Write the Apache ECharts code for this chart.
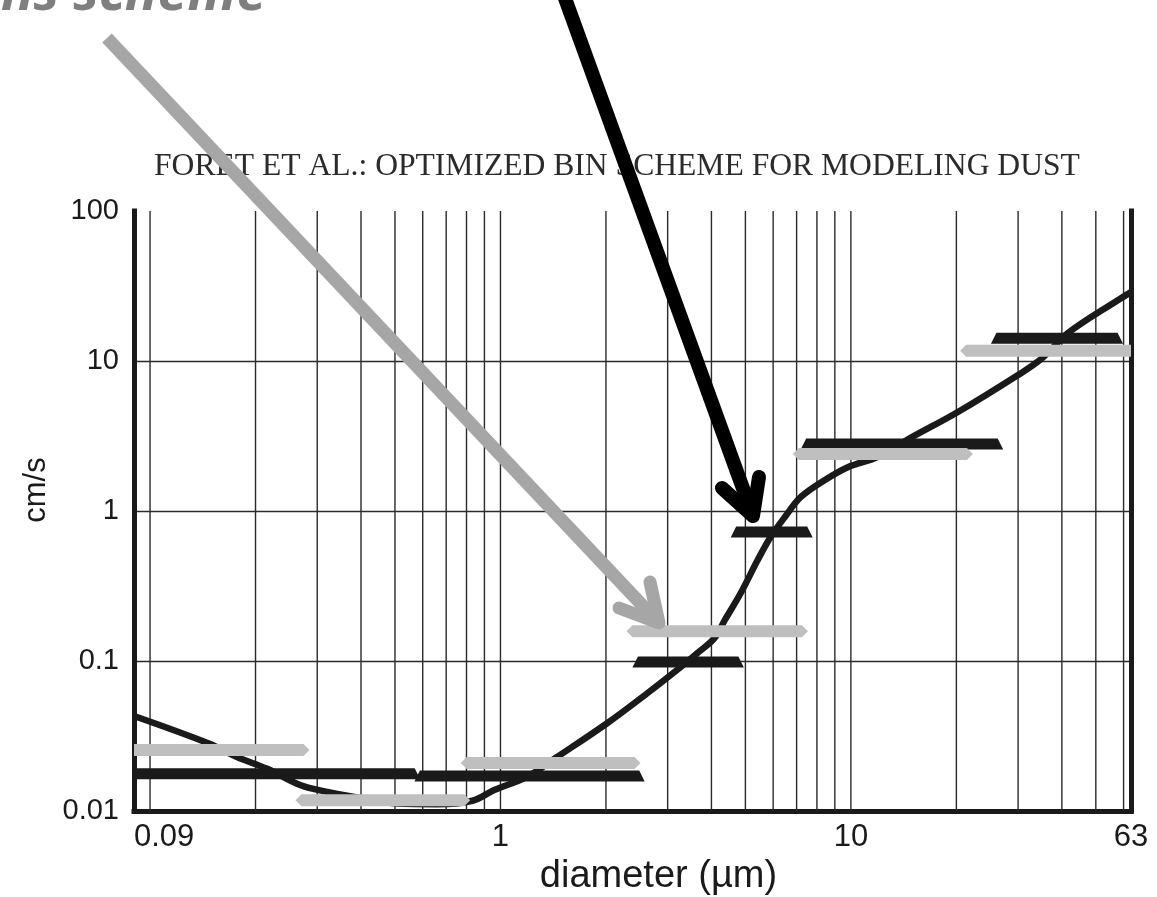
<!DOCTYPE html>
<html>
<head>
<meta charset="utf-8">
<script src="https://cdn.jsdelivr.net/npm/echarts@6/dist/echarts.min.js"></script>
<style>
  html, body { margin: 0; padding: 0; background: #fff; }
  #chart { width: 1157px; height: 897px; }
</style>
</head>
<body>
<div id="chart"></div>
<script>
// Axis ranges and tick labels
const X_MIN = 0.09, X_MAX = 63;
const Y_MIN = 0.01, Y_MAX = 100;
const xTickValues = [0.09, 1, 10, 63];
const xTickLabels = ['0.09', '1', '10', '63'];
const yTickValues = [0.01, 0.1, 1, 10, 100];
const yTickLabels = ['0.01', '0.1', '1', '10', '100'];
// vertical log grid (1..9 in each decade)
const xGridValues = [0.1, 0.2, 0.3, 0.4, 0.5, 0.6, 0.7, 0.8, 0.9,
                     1, 2, 3, 4, 5, 6, 7, 8, 9,
                     10, 20, 30, 40, 50, 60];

// Settling velocity curve
const curveDiameter = [0.09, 0.146, 0.177, 0.216, 0.268, 0.32, 0.383, 0.508, 0.66, 0.832, 0.96,
                       1.19, 1.45, 2.02, 2.63, 3.27, 3.65, 4.08, 4.37, 4.85, 5.42, 5.9, 6.48,
                       7.2, 8.43, 9.8, 11.9, 14.8, 20.2, 30, 34.9, 41.7, 57.9, 63];
const curveVelocity = [0.043, 0.0284, 0.0229, 0.0191, 0.0149, 0.0134, 0.0124, 0.0112, 0.0111, 0.0117, 0.0138,
                       0.0169, 0.0229, 0.0386, 0.0612, 0.0912, 0.113, 0.142, 0.188, 0.284, 0.471, 0.671, 0.912,
                       1.24, 1.61, 1.96, 2.29, 3.07, 4.57, 8.07, 10.3, 15.4, 25.5, 28.8];

// Bin-averaged velocities, gray scheme
const grayLo  = [0.09, 0.26, 0.77, 2.29, 6.83, 20.5];
const grayHi  = [0.285, 0.82, 2.51, 7.54, 22.3, 63];
const grayVel = [0.0255, 0.0118, 0.0209, 0.158, 2.4, 11.7];
// Bin-averaged velocities, black scheme
const blackLo  = [0.09, 0.568, 2.38, 4.54, 7.19, 25.1];
const blackHi  = [0.59, 2.58, 4.95, 7.78, 27.2, 59.8];
const blackVel = [0.0177, 0.0171, 0.0985, 0.724, 2.8, 14.2];

const titleText = 'FORET ET AL.: OPTIMIZED BIN SCHEME FOR MODELING DUST';
const captionText = 'ns scheme';

const INK = '#1a1a1a';
const GRID_INK = '#2a2a2a';

function binData(lo, hi, vel) {
  return lo.map((l, i) => [l, hi[i], vel[i]]);
}

// Horizontal bin bar: trapezoid (black) or pointed hexagon (gray)
function binRenderer(kind, height, taper, color) {
  return function (params, api) {
    const lo = api.value(0), hi = api.value(1), v = api.value(2);
    const p0 = api.coord([lo, v]);
    const p1 = api.coord([hi, v]);
    const tl = lo <= X_MIN * 1.0001 ? 0 : taper;
    const tr = hi >= X_MAX * 0.9999 ? 0 : taper;
    const y = p0[1], h2 = height / 2;
    let points;
    if (kind === 'trapezoid') {
      points = [[p0[0] + tl, y - h2], [p1[0] - tr, y - h2], [p1[0], y + h2], [p0[0], y + h2]];
    } else {
      points = [[p0[0], y], [p0[0] + tl, y - h2], [p1[0] - tr, y - h2],
                [p1[0], y], [p1[0] - tr, y + h2], [p0[0] + tl, y + h2]];
    }
    return { type: 'polygon', shape: { points: points }, style: { fill: color } };
  };
}

const chart = echarts.init(document.getElementById('chart'), null, { renderer: 'canvas' });

function findLabel(values, labels, v) {
  const i = values.findIndex(t => Math.abs(Math.log10(v) - Math.log10(t)) < 0.004);
  return i >= 0 ? labels[i] : '';
}

const option = {
  animation: false,
  backgroundColor: '#fff',
  title: {
    text: titleText,
    left: 149, top: 146,
    textStyle: { fontFamily: 'Liberation Serif', fontWeight: 'normal', fontSize: 31.6, color: '#2b2b2b' }
  },
  grid: { left: 134, right: 26, top: 211, bottom: 86, outerBoundsMode: 'none' },
  xAxis: {
    type: 'log', logBase: 10, min: X_MIN, max: X_MAX,
    name: 'diameter (µm)', nameLocation: 'middle', nameGap: 47,
    nameTextStyle: { fontFamily: 'Liberation Sans', fontSize: 38, color: INK, padding: [0, 0, 0, 52] },
    axisLine: { lineStyle: { color: INK, width: 5, cap: 'square' } },
    axisTick: { show: false },
    splitLine: { show: false },
    axisLabel: {
      margin: 11, alignMinLabel: 'left',
      showMinLabel: true, showMaxLabel: true,
      fontFamily: 'Liberation Sans', fontSize: 31, color: INK,
      formatter: v => findLabel(xTickValues, xTickLabels, v)
    }
  },
  yAxis: [{
    type: 'log', logBase: 10, min: Y_MIN, max: Y_MAX,
    name: 'cm/s', nameLocation: 'middle', nameRotate: 90, nameGap: 80,
    nameTextStyle: { fontFamily: 'Liberation Sans', fontSize: 31, color: INK, padding: [0, 0, 0, 42] },
    axisLine: { show: true, lineStyle: { color: INK, width: 5, cap: 'square' } },
    axisTick: { show: false },
    splitLine: { show: true, showMinLine: false, showMaxLine: false, lineStyle: { color: GRID_INK, width: 1.4 } },
    axisLabel: {
      margin: 15,
      fontFamily: 'Liberation Sans', fontSize: 29, color: INK,
      formatter: v => findLabel(yTickValues, yTickLabels, v)
    }
  }, {
    type: 'log', logBase: 10, min: Y_MIN, max: Y_MAX, position: 'right',
    axisLine: { show: true, lineStyle: { color: INK, width: 5, cap: 'square' } },
    axisTick: { show: false }, axisLabel: { show: false }, splitLine: { show: false }
  }],
  series: [
    {
      name: 'grid',
      type: 'custom', silent: true, z: 1,
      data: xGridValues.map(v => [v, Y_MIN]),
      renderItem: function (params, api) {
        const a = api.coord([api.value(0), Y_MIN]);
        const b = api.coord([api.value(0), Y_MAX]);
        return { type: 'line', shape: { x1: a[0], y1: a[1], x2: b[0], y2: b[1] },
                 style: { stroke: GRID_INK, lineWidth: 1.4 } };
      }
    },
    {
      name: 'settling velocity',
      type: 'line', z: 3, smooth: 0.35, showSymbol: false, clip: true,
      data: curveDiameter.map((d, i) => [d, curveVelocity[i]]),
      lineStyle: { color: INK, width: 6.5 }
    },
    {
      name: 'black bins',
      type: 'custom', z: 4, clip: true,
      data: binData(blackLo, blackHi, blackVel),
      renderItem: binRenderer('trapezoid', 11, 5.5, INK)
    },
    {
      name: 'gray bins',
      type: 'custom', z: 5, clip: true,
      data: binData(grayLo, grayHi, grayVel),
      renderItem: binRenderer('hexagon', 12, 6, '#bfbfbf')
    }
  ],
  graphic: [
    {
      type: 'text', x: 1, y: -5, z: 50,
      style: { text: captionText, font: 'italic bold 54px "Open Sans"', fill: '#7f7f7f', verticalAlign: 'middle' }
    },
    // gray pointer
    {
      type: 'polyline', z: 100,
      shape: { points: [[107, 38], [659, 623]] },
      style: { stroke: '#a6a6a6', lineWidth: 13, lineCap: 'butt', fill: null }
    },
    {
      type: 'polyline', z: 100,
      shape: { points: [[650, 582], [659, 623], [619, 608]] },
      style: { stroke: '#a6a6a6', lineWidth: 13, lineCap: 'round', lineJoin: 'round', fill: null }
    },
    // black pointer
    {
      type: 'polyline', z: 101,
      shape: { points: [[562, -10], [753, 516]] },
      style: { stroke: '#000', lineWidth: 14, lineCap: 'butt', fill: null }
    },
    {
      type: 'polyline', z: 101,
      shape: { points: [[759, 477], [753, 516], [722, 488]] },
      style: { stroke: '#000', lineWidth: 14, lineCap: 'round', lineJoin: 'round', fill: null }
    }
  ]
};

chart.setOption(option);
</script>
</body>
</html>
